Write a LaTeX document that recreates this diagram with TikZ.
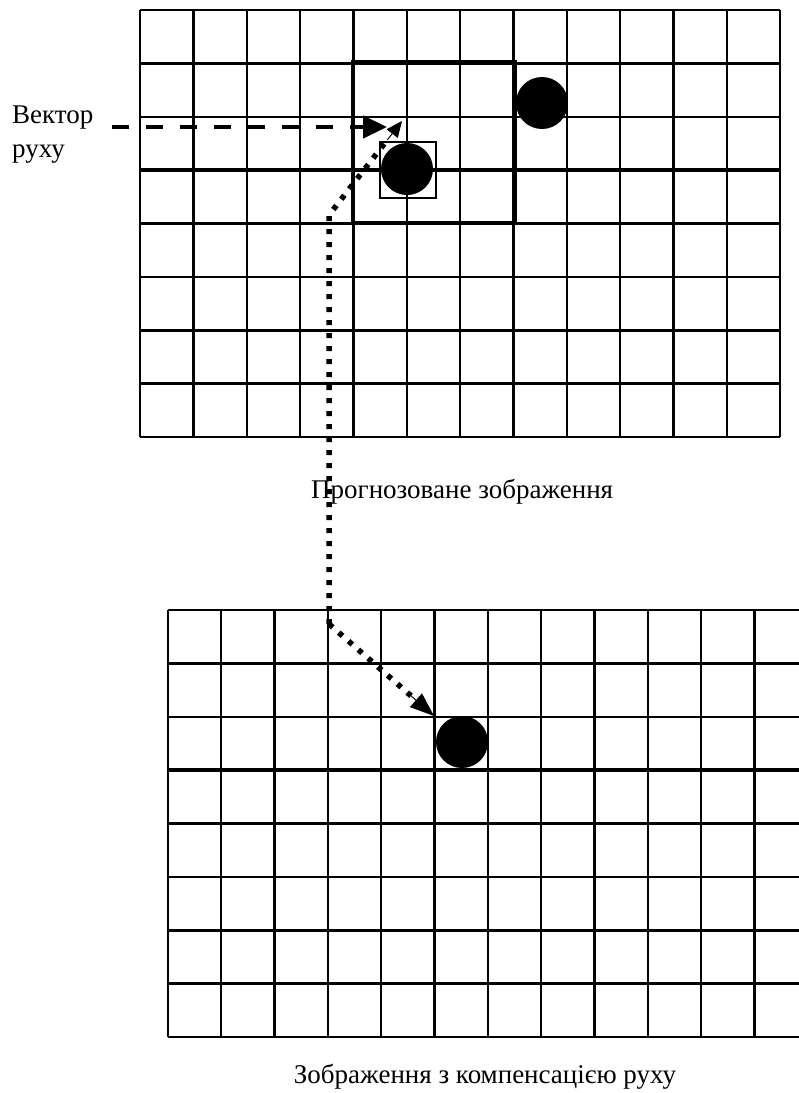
\documentclass[tikz,border=0pt]{standalone}
\usepackage{fontspec}
\setmainfont{Liberation Serif}
\usetikzlibrary{arrows.meta,calc}
\begin{document}
\begin{tikzpicture}[x=1pt,y=-1pt,
  thinline/.style={line width=1.7pt},
  medline/.style={line width=2.3pt},
  thickline/.style={line width=3.3pt},
  blob/.style={circle,fill=black,draw=none,minimum size=52pt,inner sep=0pt},
  lbl/.style={font=\fontsize{27}{29}\selectfont,inner sep=0pt},
  dashvec/.style={line width=4.5pt,dash pattern=on 17pt off 17pt,-{Triangle[length=24pt,width=22pt]}},
  dotvec/.style={line width=5.5pt,dash pattern=on 5pt off 8pt},
]
\useasboundingbox (0,0) rectangle (799,1093);
\fill[white] (0,0) rectangle (799,1093);

% ---------- top grid ----------
\foreach \i in {0,...,12}{
  \pgfmathsetmacro{\xx}{140+\i*53.333}
  \ifnum\i=1 \def\st{thickline}\else\ifnum\i=4 \def\st{thickline}\else\ifnum\i=7 \def\st{thickline}\else\ifnum\i=10 \def\st{thickline}\else
  \ifnum\i=2 \def\st{medline}\else\ifnum\i=3 \def\st{medline}\else\ifnum\i=11 \def\st{medline}\else\def\st{thinline}\fi\fi\fi\fi\fi\fi\fi
  \draw[\st] (\xx,10) -- (\xx,437);
}
\foreach \j in {0,...,8}{
  \pgfmathsetmacro{\yy}{10+\j*53.375}
  \ifnum\j=1 \def\st{thickline}\else\ifnum\j=3 \def\st{thickline}\else\ifnum\j=4 \def\st{thickline}\else\ifnum\j=6 \def\st{thickline}\else\ifnum\j=7 \def\st{thickline}\else\def\st{thinline}\fi\fi\fi\fi\fi
  \draw[\st] (140,\yy) -- (780,\yy);
}

% search window and block
\draw[line width=4.5pt] (353,62) rectangle (515,223);
\node[blob] (cpred) at (407,169) {};
\draw[line width=2.2pt] (380,142) rectangle (436,198);
\node[blob] (cref) at (542,103) {};

% ---------- bottom grid ----------
\foreach \i in {0,...,12}{
  \pgfmathsetmacro{\xx}{168+\i*53.333}
  \ifnum\i=2 \def\st{thickline}\else\ifnum\i=5 \def\st{thickline}\else\ifnum\i=8 \def\st{thickline}\else\ifnum\i=11 \def\st{thickline}\else\def\st{thinline}\fi\fi\fi\fi
  \draw[\st] (\xx,610) -- (\xx,1037);
}
\foreach \j in {0,...,8}{
  \pgfmathsetmacro{\yy}{610+\j*53.375}
  \ifnum\j=1 \def\st{thickline}\else\ifnum\j=3 \def\st{thickline}\else\ifnum\j=4 \def\st{thickline}\else\ifnum\j=6 \def\st{thickline}\else\ifnum\j=7 \def\st{thickline}\else\def\st{thinline}\fi\fi\fi\fi\fi
  \draw[\st] (168,\yy) -- (808,\yy);
}
\node[blob] (ccomp) at (462,742) {};

% ---------- labels ----------
\node[lbl,anchor=base west] (lvec1) at (12,123) {Вектор};
\node[lbl,anchor=base west] (lvec2) at (12,157) {руху};
\node[lbl,anchor=base west] (lpred) at (311,498) {Прогнозоване зображення};
\node[lbl,anchor=base] (lcomp) at (485,1083) {Зображення з компенсацією руху};

% ---------- vectors ----------
\coordinate (vs) at (112,127);
\coordinate (ve) at (387,127);
\draw[dashvec] (vs) -- (ve);

\coordinate (ms) at (329,624);
\coordinate (mb) at (329,215);
\coordinate (mt) at (402,121);
\coordinate (mc) at (434,716);
\draw[dotvec] (ms) -- (mb) -- ($(mb)!0.82!(mt)$);
\draw[line width=1pt,-{Triangle[length=16pt,width=14pt]}] ($(mb)!0.8!(mt)$) -- (mt);
\draw[dotvec] (ms) -- ($(ms)!0.8!(mc)$);
\draw[line width=1pt,-{Triangle[length=24pt,width=18pt]}] ($(ms)!0.78!(mc)$) -- (mc);
\end{tikzpicture}
\end{document}
